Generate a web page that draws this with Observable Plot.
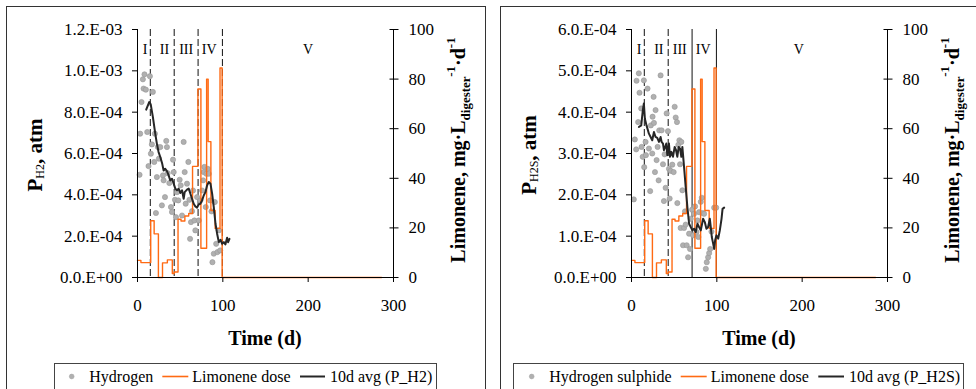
<!DOCTYPE html>
<html>
<head>
<meta charset="utf-8">
<script src="https://cdn.jsdelivr.net/npm/d3@7"></script>
<script src="https://cdn.jsdelivr.net/npm/@observablehq/plot@0.6"></script>
<style>
  html, body { margin: 0; padding: 0; background: #fff; }
  #root { position: relative; width: 976px; height: 389px; overflow: hidden; font-family: "Liberation Serif", "Times New Roman", serif; }
  .box { position: absolute; box-sizing: border-box; border: 1px solid #333; }
  #root svg { position: absolute; top: 0; }
</style>
</head>
<body>
<div id="root">
  <div class="box" style="left:6px;top:6px;width:480px;height:420px"></div>
  <div class="box" style="left:500px;top:6px;width:520px;height:420px"></div>
  <div class="box" style="left:54px;top:363px;width:383px;height:60px;border-color:#444"></div>
  <div class="box" style="left:513px;top:363px;width:451px;height:60px;border-color:#444"></div>
</div>
<script>
// ---------- data ----------
const xTicks = [0, 100, 200, 300];
const limTicks = [0, 20, 40, 60, 80, 100];
const h2Ticks = [0, 2e-4, 4e-4, 6e-4, 8e-4, 1.0e-3, 1.2e-3];
const h2TickLabels = ["0.0.E+00", "2.0.E-04", "4.0.E-04", "6.0.E-04", "8.0.E-04", "1.0.E-03", "1.2.E-03"];
const h2sTicks = [0, 1e-4, 2e-4, 3e-4, 4e-4, 5e-4, 6e-4];
const h2sTickLabels = ["0.0.E+00", "1.0.E-04", "2.0.E-04", "3.0.E-04", "4.0.E-04", "5.0.E-04", "6.0.E-04"];

const phaseDays = [15, 43, 71, 99.5];
const phaseLabels = ["I", "II", "III", "IV", "V"];
const phaseLabelDaysH2 = [9, 31.5, 57, 84, 200];
const phaseLabelDaysH2S = [9, 32, 56.5, 84, 196];

// Limonene dose (mg/L_digester/d), step values starting at each day
const limDay = [0, 4, 15.5, 19.5, 24.5, 29.3, 35, 40.8, 43, 47.5, 51, 55.5, 60, 64.5, 70.8, 74.3, 81, 82.8, 86, 91, 96.7, 99.2, 286];
const limVal = [6.9, 6.0, 22.9, 17.6, 0, 5.9, 7.1, 1.6, 2.2, 23.5, 22.8, 24.8, 25.8, 44.8, 76, 11.8, 80, 54.8, 27, 19.8, 84.5, 0, 0];

// Hydrogen partial pressure (atm)
const h2Day = [2.4,3.1,4.7,6.3,7.1,8.2,9.8,11.4,12.9,14.5,15.7,16.9,18,19.6,20.4,21.6,22.7,23.9,25.1,26.7,28.6,29.8,30.6,32.2,33.7,34.5,35.3,37.3,39.2,40.4,41.6,42.4,43.9,45.1,46.3,47.8,49.4,50.6,52.2,54.1,55.3,56.5,58,59.6,60.8,61.6,62.7,63.9,65.1,66.7,67.8,69.8,71.8,73.7,75.7,76.9,77.6,78.4,80,80.8,82.4,83.5,85.1,86.7,87.8,89.4,90.6,92.2,93.7,95.3,96.9];
const h2Val = [4.97e-4,6.96e-4,8.49e-4,9.59e-4,9.14e-4,9.83e-4,9.09e-4,7.04e-4,5.39e-4,9.74e-4,5.99e-4,6.44e-4,8.98e-4,5.59e-4,6.96e-4,3.12e-4,4.86e-4,6.31e-4,5.75e-4,6.31e-4,3.49e-4,4.94e-4,4.70e-4,3.89e-4,6.61e-4,6.31e-4,5.05e-4,4.57e-4,3.41e-4,3.17e-4,5.70e-4,5.10e-4,3.76e-4,2.92e-4,4.13e-4,3.73e-4,4.73e-4,4.46e-4,3.00e-4,6.56e-4,5.10e-4,3.57e-4,4.54e-4,5.59e-4,3.76e-4,1.87e-4,2.68e-4,3.21e-4,4.21e-4,2.76e-4,2.28e-4,3.89e-4,2.76e-4,3.73e-4,4.21e-4,4.70e-4,5.10e-4,5.35e-4,3.41e-4,5.02e-4,5.26e-4,5.02e-4,3.73e-4,3.20e-4,0.74e-4,1.15e-4,3.65e-4,1.63e-4,1.23e-4,2.28e-4,1.31e-4];
const h2AvgDay = [10.2,13.7,15.5,18,20.8,22.7,24.7,26.7,29,30.6,32.5,34.5,36.5,38.4,40.4,42.4,44.3,46.3,48.2,50.2,52.2,54.1,55.3,58,60,62,63.9,65.9,67.8,69.8,71.8,73.7,75.7,77.6,79.6,81.6,83.5,85.5,87.5,89.4,91.4,93.3,95.3,97.3,99.2,101.2,103,105,106.2,107.8];
const h2AvgVal = [8.12e-4,8.49e-4,8.38e-4,7.77e-4,6.96e-4,6.48e-4,6.07e-4,5.83e-4,5.50e-4,5.18e-4,5.26e-4,5.15e-4,4.94e-4,4.70e-4,4.78e-4,4.54e-4,4.30e-4,4.22e-4,4.30e-4,4.09e-4,4.22e-4,3.81e-4,4.13e-4,4.25e-4,4.30e-4,4.05e-4,3.81e-4,3.57e-4,3.44e-4,3.38e-4,3.54e-4,3.57e-4,3.73e-4,3.97e-4,4.13e-4,4.46e-4,4.62e-4,4.54e-4,4.05e-4,3.41e-4,2.60e-4,2.12e-4,1.71e-4,1.82e-4,1.63e-4,1.71e-4,1.60e-4,1.92e-4,1.71e-4,1.87e-4];

// Hydrogen sulphide partial pressure (atm)
const h2sDay = [2.7,3.9,5.5,5.9,7.8,8.6,9.4,11.4,11.8,13.1,14.5,14.9,16.5,16.9,18.8,20.4,21.9,22.7,24.3,24.7,25.9,26.3,27.5,28.2,29.4,30.6,31.8,32.5,34.1,35.3,36.9,38,38.8,40,41.2,42.7,43.9,44.7,45.9,47.8,49.4,50.6,51.8,53.3,53.7,54.9,56.1,56.9,57.6,58.4,59.6,60.4,61.6,62.7,63.5,64.7,66.3,67.5,68.6,69.4,71,72.2,73.3,74.5,76.1,77.3,78.4,79.2,81.2,82.4,83.5,85.1,87.1,88.2,89.8,91,92.2,93.7,96.9,99.2];
const h2sVal = [1.89e-4,3.34e-4,3.10e-4,4.76e-4,3.76e-4,4.94e-4,4.47e-4,4.09e-4,3.16e-4,2.92e-4,4.77e-4,2.67e-4,3.28e-4,2.96e-4,4.57e-4,3.12e-4,2.09e-4,3.68e-4,3.00e-4,3.89e-4,4.37e-4,3.74e-4,2.55e-4,4.05e-4,2.84e-4,3.16e-4,2.35e-4,3.56e-4,4.89e-4,3.56e-4,2.74e-4,1.85e-4,2.98e-4,2.17e-4,3.97e-4,3.54e-4,2.63e-4,1.91e-4,2.58e-4,2.73e-4,2.55e-4,4.13e-4,3.87e-4,3.76e-4,1.80e-4,3.21e-4,3.32e-4,2.74e-4,1.20e-4,3.28e-4,2.11e-4,0.78e-4,1.20e-4,1.60e-4,1.28e-4,0.78e-4,0.49e-4,1.06e-4,0.69e-4,1.42e-4,1.64e-4,1.02e-4,1.54e-4,1.72e-4,1.10e-4,1.38e-4,0.98e-4,1.58e-4,1.83e-4,1.93e-4,1.56e-4,1.54e-4,0.21e-4,0.37e-4,0.49e-4,0.59e-4,0.69e-4,1.11e-4,1.69e-4,1.69e-4];
const h2sAvgDay = [8.6,11.4,13.3,14.5,15.7,17.6,20.4,22.4,24.3,26.3,28.2,30.2,32.2,34.1,35.3,36.9,38,39.6,40.8,42,43.9,45.1,46.7,48.6,50.6,52.2,53.7,55.3,56.9,58.4,59.6,61.6,63.5,65.5,67.5,69.4,71.4,73.3,75.3,77.3,79.2,81.2,83.9,85.9,87.8,89.8,91.8,92.9,94.1,95.7,96.9,98,99.6,101.6,103.5,105.5,106.7,108.6];
const h2sAvgVal = [3.64e-4,3.68e-4,4.05e-4,4.21e-4,3.84e-4,3.68e-4,3.48e-4,3.40e-4,3.32e-4,3.52e-4,3.40e-4,3.38e-4,3.28e-4,3.40e-4,3.28e-4,3.24e-4,3.08e-4,3.16e-4,3.24e-4,2.96e-4,3.24e-4,2.92e-4,3.04e-4,2.92e-4,3.16e-4,3.08e-4,2.92e-4,3.16e-4,3.12e-4,2.92e-4,3.16e-4,2.67e-4,2.19e-4,1.70e-4,1.30e-4,1.22e-4,1.14e-4,1.18e-4,1.10e-4,1.30e-4,1.22e-4,1.14e-4,1.42e-4,1.34e-4,1.18e-4,1.22e-4,1.42e-4,1.22e-4,0.98e-4,0.82e-4,0.69e-4,0.90e-4,1.02e-4,0.94e-4,1.14e-4,1.42e-4,1.66e-4,1.69e-4];

// ---------- drawing ----------
const FONT = "Liberation Serif, Times New Roman, serif";
const ORANGE = "#ff6a13";
const root = document.getElementById("root");

function panel(cfg) {
  const k = cfg.ymax / 100;
  const pts = cfg.ptDay.map((d, i) => ({d, v: cfg.ptVal[i]}));
  const avg = cfg.avgDay.map((d, i) => ({d, v: cfg.avgVal[i]}));
  const lim = limDay.map((d, i) => ({d, v: limVal[i]}));
  const tickMap = new Map(cfg.ticks.map((t, i) => [t, cfg.tickLabels[i]]));
  const svg = Plot.plot({
    width: cfg.width,
    height: 389,
    marginLeft: cfg.ml,
    marginRight: cfg.mr,
    marginTop: 29,
    marginBottom: 112,
    x: {domain: [0, 300]},
    y: {domain: [0, cfg.ymax]},
    style: {background: "transparent", fontFamily: FONT, fontSize: "17px", color: "#000", overflow: "visible"},
    marks: [
      Plot.ruleX(phaseDays.slice(0, cfg.dashed), {stroke: "#111", strokeWidth: 1, strokeDasharray: "7,3"}),
      Plot.ruleX(phaseDays.slice(cfg.dashed), {stroke: "#111", strokeWidth: 1}),
      Plot.dot(pts, {x: "d", y: "v", r: 2.6, fill: "#b0b0b0", stroke: "#979797", strokeWidth: 0.6}),
      Plot.line(lim, {x: "d", y: r => r.v * k, curve: "step-after", stroke: ORANGE, strokeWidth: 1.4}),
      Plot.line(avg, {x: "d", y: "v", stroke: "#262626", strokeWidth: 2}),
      Plot.ruleX([0, 300], {stroke: "#000"}),
      Plot.ruleY([0], {stroke: "#000"}),
      Plot.axisX({ticks: xTicks, tickSize: 5, tickPadding: 16, label: null}),
      Plot.axisY({anchor: "left", ticks: cfg.ticks, tickSize: 5, tickPadding: 10, tickFormat: d => tickMap.get(d), label: null}),
      Plot.axisY({anchor: "right", ticks: limTicks.map(v => v * k), tickSize: 9, dx: -4.5, tickPadding: 10.5, tickFormat: d => String(Math.round(d / k)), label: null}),
      Plot.text(phaseLabels, {x: cfg.phaseLabelDays, text: d => d, frameAnchor: "top", dy: 15, fontSize: 14})
    ]
  });
  svg.style.left = cfg.left + "px";
  const g = d3.select(svg);
  const xr = cfg.width - cfg.mr;
  // x title
  g.append("text").attr("x", (cfg.ml + xr) / 2).attr("y", 345).attr("font-family", FONT)
    .attr("text-anchor", "middle").attr("font-weight", "bold").attr("font-size", 20).text("Time (d)");
  // left title
  const t1 = g.append("text").attr("transform", `translate(${cfg.ml - 95},155) rotate(-90)`).attr("font-family", FONT)
    .attr("text-anchor", "middle").attr("font-weight", "bold").attr("font-size", 21);
  t1.append("tspan").text("P");
  t1.append("tspan").attr("font-size", 12).attr("font-weight", "normal").attr("dy", 2).text(cfg.sub);
  t1.append("tspan").attr("dy", -2).text(", atm");
  // right title
  const t2 = g.append("text").attr("transform", `translate(${xr + 72},150) rotate(-90)`).attr("font-family", FONT)
    .attr("text-anchor", "middle").attr("font-weight", "bold").attr("font-size", 20);
  t2.append("tspan").text("Limonene, mg·L");
  t2.append("tspan").attr("font-size", 13).attr("dy", 5).text("digester");
  t2.append("tspan").attr("font-size", 13).attr("dy", -15).text("-1");
  t2.append("tspan").attr("dy", 10).text("·d");
  t2.append("tspan").attr("font-size", 13).attr("dy", -10).text("-1");
  root.appendChild(svg);
}

panel({left: 0, width: 490, ml: 137, mr: 97, ymax: 1.2e-3, ticks: h2Ticks, tickLabels: h2TickLabels,
  ptDay: h2Day, ptVal: h2Val, avgDay: h2AvgDay, avgVal: h2AvgVal, dashed: 4, phaseLabelDays: phaseLabelDaysH2, sub: "H2"});
panel({left: 490, width: 486, ml: 141, mr: 89, ymax: 6e-4, ticks: h2sTicks, tickLabels: h2sTickLabels,
  ptDay: h2sDay, ptVal: h2sVal, avgDay: h2sAvgDay, avgVal: h2sAvgVal, dashed: 2, phaseLabelDays: phaseLabelDaysH2S, sub: "H2S"});

// ---------- legends ----------
const legendLeft = ["Hydrogen", "Limonene dose", "10d avg (P_H2)"];
const legendRight = ["Hydrogen sulphide", "Limonene dose", "10d avg (P_H2S)"];
const lsvg = d3.create("svg").attr("width", 976).attr("height", 389)
  .style("position", "absolute").style("left", "0px").style("top", "0px");
function ltext(x, s) {
  lsvg.append("text").attr("x", x).attr("y", 381.5).attr("font-family", FONT).attr("font-size", 16).attr("fill", "#000").text(s);
}
function legend(labels, pos) {
  const y = 376.5;
  lsvg.append("circle").attr("cx", pos.dot).attr("cy", y).attr("r", 2.4).attr("fill", "#b0b0b0").attr("stroke", "#a0a0a0").attr("stroke-width", 0.5);
  ltext(pos.t1, labels[0]);
  lsvg.append("line").attr("x1", pos.l1[0]).attr("x2", pos.l1[1]).attr("y1", y).attr("y2", y).attr("stroke", ORANGE).attr("stroke-width", 1.6);
  ltext(pos.t2, labels[1]);
  lsvg.append("line").attr("x1", pos.l2[0]).attr("x2", pos.l2[1]).attr("y1", y).attr("y2", y).attr("stroke", "#262626").attr("stroke-width", 2);
  ltext(pos.t3, labels[2]);
}
legend(legendLeft, {dot: 71.7, t1: 89.3, l1: [162.3, 188.3], t2: 192.3, l2: [300, 325], t3: 330});
legend(legendRight, {dot: 531.7, t1: 549.3, l1: [680.7, 706.7], t2: 710.7, l2: [818.3, 844], t3: 849});
root.appendChild(lsvg.node());
</script>
</body>
</html>
